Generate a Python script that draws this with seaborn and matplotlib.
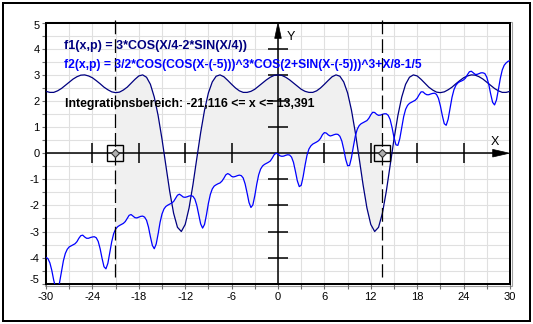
import numpy as np
import matplotlib
matplotlib.use("Agg")
import matplotlib.pyplot as plt
import matplotlib.transforms as mtransforms
import seaborn as sns
from matplotlib.patches import Rectangle, Polygon

# ---------------- data ----------------
x_f1 = np.arange(-30, 30.001, 0.5)
f1_vals = np.array([237,233,233,239,248,260,272,284,293,299,300,296,289,278,266,253,243,235,232,234,
    242,253,268,283,296,300,291,264,215,144,54,-47,-147,-230,-284,-300,-273,-210,-121,-20,
    79,165,231,273,295,300,293,279,264,250,239,233,233,237,245,257,269,281,291,298,
    300,298,291,281,269,257,245,237,233,233,239,250,264,279,293,300,295,273,231,165,
    79,-20,-121,-210,-273,-300,-284,-230,-147,-47,54,144,215,264,291,300,296,283,268,253,
    242,234,232,235,243,253,266,278,289,296,300,299,293,284,272,260,248,239,233,233,237]) / 100

x_f2 = np.arange(-30, 30.001, 0.25)
f2_vals = np.array([-399,-404,-420,-449,-487,-516,-521,-496,-454,-412,-384,-368,-359,-355,-351,-347,
    -339,-326,-316,-314,-321,-326,-326,-323,-321,-320,-324,-338,-366,-403,-435,-443,-422,-381,
    -339,-308,-291,-282,-277,-273,-269,-262,-250,-238,-235,-241,-247,-248,-245,-242,-241,-245,
    -257,-283,-320,-353,-366,-348,-309,-265,-233,-214,-204,-199,-195,-191,-185,-173,-161,-157,
    -162,-168,-169,-167,-164,-163,-165,-176,-200,-236,-271,-287,-273,
    -236,-192,-158,-137,-126,-121,-117,-114,-107,-96,
    -83,-78,-82,-89,-91,-89,-86,-84,-86,-95,
    -118,-152,-189,-208,-198,-163,-119,-83,-61,-49,
    -43,-39,-35,-30,-19,-6,0,-3,-10,-12,
    -11,-8,-6,-7,-15,-35,-69,-106,-128,-123,
    -90,-46,-8,16,28,35,39,43,48,57,
    71,79,77,70,66,68,71,73,72,65,
    47,15,-23,-48,-47,-17,26,66,92,106,
    113,117,121,125,134,147,157,156,149,145,
    146,149,151,151,145,129,98,60,32,30,
    56,99,140,168,183,191,195,199,203,211,
    224,235,235,228,224,224,227,229,230,225,
    210,181,144,113,107,130,172,214,243,260,
    269,274,277,281,288,301,312,314,308,302,
    302,305,308,308,305,291,264,227,195,185,
    204,244,287,319,337,346,352,355]) / 100

lower, upper = -21.116, 13.391

x_ticks = list(range(-30, 31, 3))
x_ticklabels = [str(v) if v % 6 == 0 else '' for v in x_ticks]
y_ticks = [v / 2 for v in range(-10, 11)]
y_ticklabels = [str(int(v)) if v == int(v) else '' for v in y_ticks]
axis_xticks = [-24, -18, -12, -6, 6, 12, 18, 24]
axis_yticks = [-4, -3, -2, -1, 1, 2, 3, 4]

f1_label = "f1(x,p) = 3*COS(X/4-2*SIN(X/4))"
f2_label = "f2(x,p) = 3/2*COS(COS(X-(-5)))^3*COS(2+SIN(X-(-5)))^3+X/8-1/5"
range_label = "Integrationsbereich: -21,116 <= x <= 13,391"

# ---------------- style ----------------
sns.set_theme(style="white")
plt.rcParams['font.family'] = ['Liberation Sans', 'DejaVu Sans']

W, H = 533, 324
fig = plt.figure(figsize=(W / 100, H / 100), dpi=100)
fig.patch.set_facecolor('white')

def px(x, y):
    return x / W, 1 - y / H

ax_left, ax_right, ax_top, ax_bottom = 46, 510, 22.7, 283.7
ax = fig.add_axes([ax_left / W, 1 - ax_bottom / H, (ax_right - ax_left) / W, (ax_bottom - ax_top) / H])
ax.set_facecolor('white')
ax.set_xlim(-30, 30)
ax.set_ylim(-5, 5)

# grid
ax.set_axisbelow(True)
ax.grid(True, color='#E0E0E0', lw=0.8)

# fill between curves, clipped to integration range
verts = list(zip(x_f1, f1_vals)) + list(zip(x_f2[::-1], f2_vals[::-1]))
poly = Polygon(verts, closed=True, fc='#F0F0F0', ec='none', zorder=1)
ax.add_patch(poly)
clip = Rectangle((lower, -5), upper - lower, 10, transform=ax.transData)
poly.set_clip_path(clip)

# central axes
ax.plot([-30, 27.76], [0, 0], color='black', lw=1.1, zorder=2)
ax.plot([0, 0], [-5, 4.4], color='black', lw=1.1, zorder=2)
ax.add_patch(Polygon([(27.76, 0.146), (29.92, 0), (27.76, -0.146)], closed=True,
                     fc='black', ec='black', lw=0.5, zorder=2, clip_on=False))
ax.add_patch(Polygon([(-0.43, 4.4), (0, 5.0), (0.43, 4.4)], closed=True,
                     fc='black', ec='black', lw=0.5, zorder=2, clip_on=False))
ax.vlines(axis_xticks, -0.38, 0.38, color='black', lw=1.1, zorder=2)
ax.hlines(axis_yticks, -1.29, 1.29, color='black', lw=1.1, zorder=2)

# curves
sns.lineplot(x=x_f1, y=f1_vals, ax=ax, color='#000080', lw=0.9, zorder=3)
sns.lineplot(x=x_f2, y=f2_vals, ax=ax, color='#0000FF', lw=0.9, zorder=3)

# integration bounds
for xb in (lower, upper):
    ax.plot([xb, xb], [5.1, -4.75], color='black', lw=0.9, dashes=(11, 4),
            zorder=5, clip_on=False)
ax.plot([lower, upper], [0, 0], ls='none', marker='s', ms=11.2, mfc='none',
        mec='black', mew=1.0, zorder=6, clip_on=False)
ax.plot([lower, upper], [0, 0], ls='none', marker='D', ms=3.6, mfc='#B0B0B0',
        mec='#303030', mew=0.8, zorder=7, clip_on=False)

# ticks
ax.set_xticks(x_ticks)
ax.set_xticklabels(x_ticklabels)
ax.set_yticks(y_ticks)
ax.set_yticklabels(y_ticklabels)
ax.tick_params(axis='x', direction='out', length=3.6, width=0.8, color='#707070',
               labelsize=8, labelcolor='black', pad=2.3, bottom=True)
ax.tick_params(axis='y', direction='out', length=3.0, width=0.8, color='#707070',
               labelsize=8, labelcolor='black', pad=1.5, left=True)
ylabs = ax.get_yticklabels()
ylabs[0].set_transform(ylabs[0].get_transform() +
                       mtransforms.ScaledTranslation(0, 0.045, fig.dpi_scale_trans))
ylabs[-1].set_transform(ylabs[-1].get_transform() +
                        mtransforms.ScaledTranslation(0, -0.025, fig.dpi_scale_trans))
ax.set_xlabel('')
ax.set_ylabel('')

for s in ax.spines.values():
    s.set_color('black')
    s.set_linewidth(1.44)
    s.set_visible(True)

# grey outer frame of plot area
x0, y0 = px(44.5, 285.5)
x1, y1 = px(511.5, 21.5)
fig.add_artist(Rectangle((x0, y0), x1 - x0, y1 - y0, transform=fig.transFigure,
                         fill=False, ec='#A0A0A0', lw=0.8, zorder=0))
# outer border
x0, y0 = px(2.5, 321)
x1, y1 = px(529.5, 2.5)
fig.add_artist(Rectangle((x0, y0), x1 - x0, y1 - y0, transform=fig.transFigure,
                         fill=False, ec='black', lw=1.44))

# texts
fig.text(*px(64, 48.5), f1_label, color='#000080', fontsize=9, fontweight='bold',
         ha='left', va='baseline')
fig.text(*px(64, 68.5), f2_label, color='#0000FF', fontsize=8.7, fontweight='bold',
         ha='left', va='baseline')
fig.text(*px(65, 106.7), range_label, color='black', fontsize=8.8, fontweight='bold',
         ha='left', va='baseline')
fig.text(*px(495, 145), 'X', color='black', fontsize=9, ha='center', va='baseline')
fig.text(*px(290.5, 40), 'Y', color='black', fontsize=9, ha='center', va='baseline')

fig.savefig("out.png", dpi=100, facecolor='white')
